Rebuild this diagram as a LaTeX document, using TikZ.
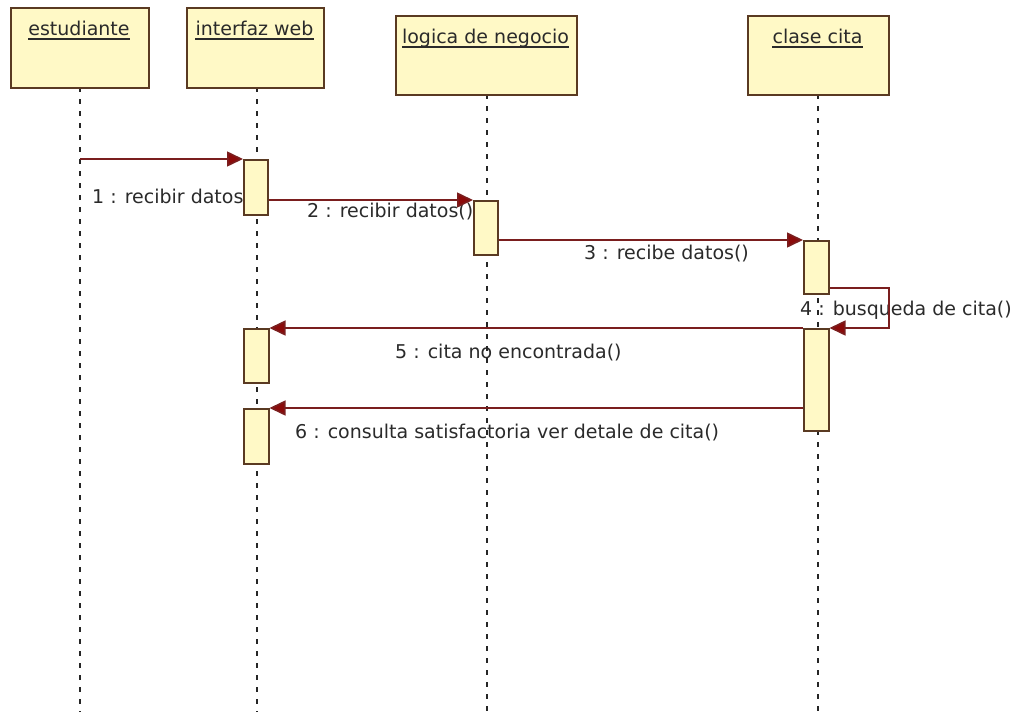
\documentclass[tikz,border=0pt]{standalone}
\usepackage{fontspec}
\setmainfont{DejaVu Sans}
\usetikzlibrary{arrows.meta,calc}
\definecolor{boxfill}{HTML}{FFF9C6}
\definecolor{boxline}{HTML}{5A3A22}
\definecolor{msgline}{HTML}{7A1E1E}
\definecolor{tipcol}{HTML}{8B0A0A}
\definecolor{txt}{HTML}{2A2A2A}
\tikzset{
  objbox/.style={draw=boxline, fill=boxfill, line width=1.8pt, inner sep=0pt, anchor=north west},
  acts/.style={draw=boxline, fill=boxfill, line width=1.5pt, inner sep=0pt, anchor=north west, minimum width=25pt},
  title/.style={inner sep=0pt, anchor=base, font=\fontsize{19}{21}\selectfont, text=txt},
  uline/.style={line width=1.2pt, draw=txt},
  lifeline/.style={line width=1.5pt, dash pattern=on 5pt off 7pt, draw=black!85},
  msg/.style={draw=msgline, line width=1.6pt, -{Triangle[length=16pt,width=15pt,fill=tipcol]}},
  mlabel/.style={inner sep=0pt, anchor=west, font=\fontsize{19}{21}\selectfont, text=txt}
}
\begin{document}
\begin{tikzpicture}[x=1pt,y=-1pt]
\useasboundingbox (0,0) rectangle (1017,712);
% labels (drawn first, lines go over them)
\node[mlabel] (l1) at (92,198) {1 : recibir datos()};
\node[mlabel] (l2) at (307,212) {2 : recibir datos()};
\node[mlabel] (l3) at (584,254) {3 : recibe datos()};
\node[mlabel] (l4) at (800,310) {4 : busqueda de cita()};
\node[mlabel] (l5) at (395,353) {5 : cita no encontrada()};
\node[mlabel] (l6) at (295,433) {6 : consulta satisfactoria ver detale de cita()};
% lifelines
\coordinate (estT) at (80,87);   \coordinate (estB) at (80,712);
\coordinate (intT) at (257,87);  \coordinate (intB) at (257,712);
\coordinate (logT) at (487,94);  \coordinate (logB) at (487,712);
\coordinate (citT) at (818,94);  \coordinate (citB) at (818,712);
\draw[lifeline] (estT) -- (estB);
\draw[lifeline] (intT) -- (intB);
\draw[lifeline] (logT) -- (logB);
\draw[lifeline] (citT) -- (citB);
% object boxes
\node[objbox, minimum width=138pt, minimum height=80pt] (est) at (10,7) {};
\node[objbox, minimum width=137pt, minimum height=80pt] (int) at (186,7) {};
\node[objbox, minimum width=181pt, minimum height=79pt] (log) at (395,15) {};
\node[objbox, minimum width=141pt, minimum height=79pt] (cit) at (747,15) {};
\node[title] (t1) at (79,35) {estudiante};
\node[title] (t2) at (254.5,35) {interfaz web};
\node[title] (t3) at (485.5,43) {logica de negocio};
\node[title] (t4) at (817.5,43) {clase cita};
\foreach \t in {t1,t2,t3,t4}{
  \draw[uline] ([yshift=-4pt]\t.base west) -- ([yshift=-4pt]\t.base east);
}
% activations
\node[acts, minimum width=24pt, minimum height=55pt] (a1) at (243,159) {};
\node[acts, minimum width=24pt, minimum height=54pt] (a2) at (473,200) {};
\node[acts, minimum height=53pt] (a3) at (803,240) {};
\node[acts, minimum height=102pt] (a4) at (803,328) {};
\node[acts, minimum height=54pt] (a5) at (243,328) {};
\node[acts, minimum height=55pt] (a6) at (243,408) {};
% messages
\draw[msg] (estT |- a1.north west) -- (a1.north west);
\draw[msg] (a1.east |- a2.north) -- (a2.north west);
\draw[msg] (a2.east |- a3.north) -- (a3.north west);
\coordinate (selfR) at (889,288);
\draw[msg] (a3.east |- selfR) -- (selfR) -- (selfR |- a4.north) -- (a4.north east);
\draw[msg] (a4.north west) -- (a5.north east);
\draw[msg] (a4.west |- a6.north) -- (a6.north east);
\end{tikzpicture}
\end{document}
